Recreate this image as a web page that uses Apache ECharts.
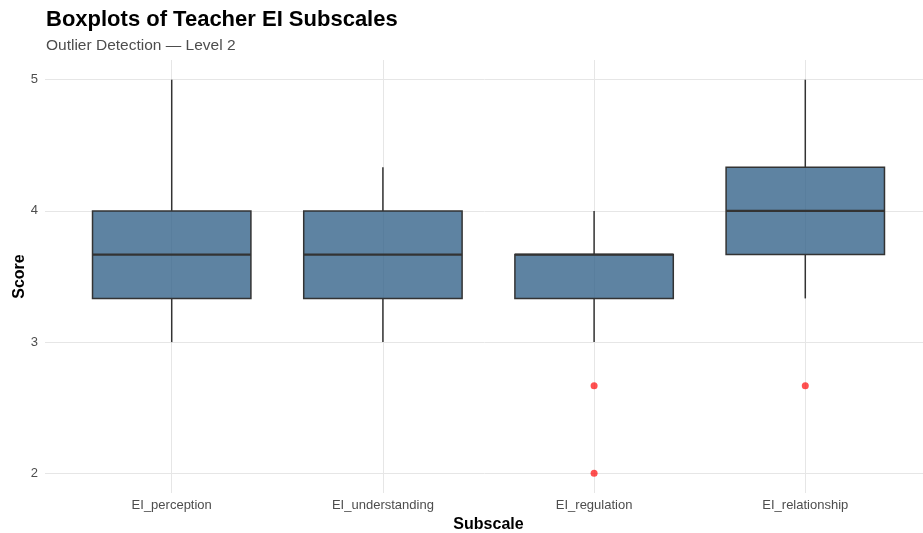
<!DOCTYPE html>
<html>
<head>
<meta charset="utf-8">
<script src="https://cdn.jsdelivr.net/npm/echarts@6/dist/echarts.min.js"></script>
<style>
  html, body { margin: 0; padding: 0; background: #ffffff; }
  #chart { width: 923px; height: 533px; }
</style>
</head>
<body>
<div id="chart"></div>
<script>
// Subscale names and five-number summaries (whisker ends, quartiles, median)
const categories = ['EI_perception', 'EI_understanding', 'EI_regulation', 'EI_relationship'];
const whiskerLow  = [3.0,   3.0,   3.0,   3.333];
const q1          = [3.333, 3.333, 3.333, 3.667];
const median      = [3.667, 3.667, 3.667, 4.0];
const q3          = [4.0,   4.0,   3.667, 4.333];
const whiskerHigh = [5.0,   4.333, 4.0,   5.0];

// Outlying scores: category index and value
const outlierCategory = [2, 2, 3];
const outlierScore    = [2.667, 2.0, 2.667];

// Axis ticks
const yTicks = [2, 3, 4, 5];
const xTicks = [0, 1, 2, 3];

const boxData = categories.map((c, i) => [i, whiskerLow[i], q1[i], median[i], q3[i], whiskerHigh[i]]);
const outlierData = outlierCategory.map((c, i) => [c, outlierScore[i]]);

const font = '"Liberation Sans", Arial, Helvetica, sans-serif';
const ink = '#333333';

const chart = echarts.init(document.getElementById('chart'), null, { renderer: 'canvas' });

chart.setOption({
  backgroundColor: '#ffffff',
  animation: false,
  textStyle: { fontFamily: font },
  title: {
    text: 'Boxplots of Teacher EI Subscales',
    subtext: 'Outlier Detection \u2014 Level 2',
    left: 41,
    top: 4,
    itemGap: 7,
    textStyle: { fontFamily: font, fontSize: 22, fontWeight: 'bold', color: '#000000' },
    subtextStyle: { fontFamily: font, fontSize: 15.5, color: '#4d4d4d' }
  },
  grid: { left: 45, right: -9, top: 60, bottom: 40, outerBoundsMode: 'none', containLabel: false },
  xAxis: {
    type: 'value',
    min: -0.6,
    max: 3.6,
    name: 'Subscale',
    nameLocation: 'middle',
    nameGap: 17,
    nameTextStyle: { fontFamily: font, fontSize: 16, fontWeight: 'bold', color: '#000000' },
    axisLine: { show: false },
    axisTick: { show: false, customValues: xTicks },
    axisLabel: {
      customValues: xTicks,
      formatter: v => categories[Math.round(v)],
      color: '#4d4d4d', fontSize: 13, fontFamily: font, margin: 6
    },
    splitLine: { show: true, lineStyle: { color: '#e6e6e6', width: 1 } }
  },
  yAxis: {
    type: 'value',
    min: 1.85,
    max: 5.15,
    name: 'Score',
    nameLocation: 'middle',
    nameGap: 17,
    nameMoveOverlap: false,
    nameTextStyle: { fontFamily: font, fontSize: 16, fontWeight: 'bold', color: '#000000' },
    axisLine: { show: false },
    axisTick: { show: false, customValues: yTicks },
    axisLabel: {
      customValues: yTicks,
      color: '#4d4d4d', fontSize: 13, fontFamily: font, margin: 7
    },
    splitLine: { show: true, lineStyle: { color: '#e6e6e6', width: 1 } }
  },
  series: [
    {
      type: 'custom',
      name: 'box',
      data: boxData,
      encode: { x: 0, y: [1, 2, 3, 4, 5] },
      z: 2,
      renderItem: function (params, api) {
        const x = api.value(0);
        const lo = api.coord([x, api.value(1)]);
        const b1 = api.coord([x, api.value(2)]);
        const md = api.coord([x, api.value(3)]);
        const b3 = api.coord([x, api.value(4)]);
        const hi = api.coord([x, api.value(5)]);
        const half = api.size([0.75, 0])[0] / 2;
        const cx = lo[0];
        return {
          type: 'group',
          children: [
            { type: 'line', shape: { x1: cx, y1: b3[1], x2: cx, y2: hi[1] },
              style: { stroke: ink, lineWidth: 1.5 } },
            { type: 'line', shape: { x1: cx, y1: b1[1], x2: cx, y2: lo[1] },
              style: { stroke: ink, lineWidth: 1.5 } },
            { type: 'rect', shape: { x: cx - half, y: b3[1], width: half * 2, height: b1[1] - b3[1] },
              style: { fill: 'rgba(54,100,139,0.8)', stroke: ink, lineWidth: 1.5 } },
            { type: 'line', shape: { x1: cx - half, y1: md[1], x2: cx + half, y2: md[1] },
              style: { stroke: ink, lineWidth: 2.4 } }
          ]
        };
      }
    },
    {
      type: 'scatter',
      name: 'outliers',
      data: outlierData,
      symbol: 'circle',
      symbolSize: 7,
      z: 3,
      itemStyle: { color: 'rgba(255,0,0,0.85)' }
    }
  ]
});
</script>
</body>
</html>
